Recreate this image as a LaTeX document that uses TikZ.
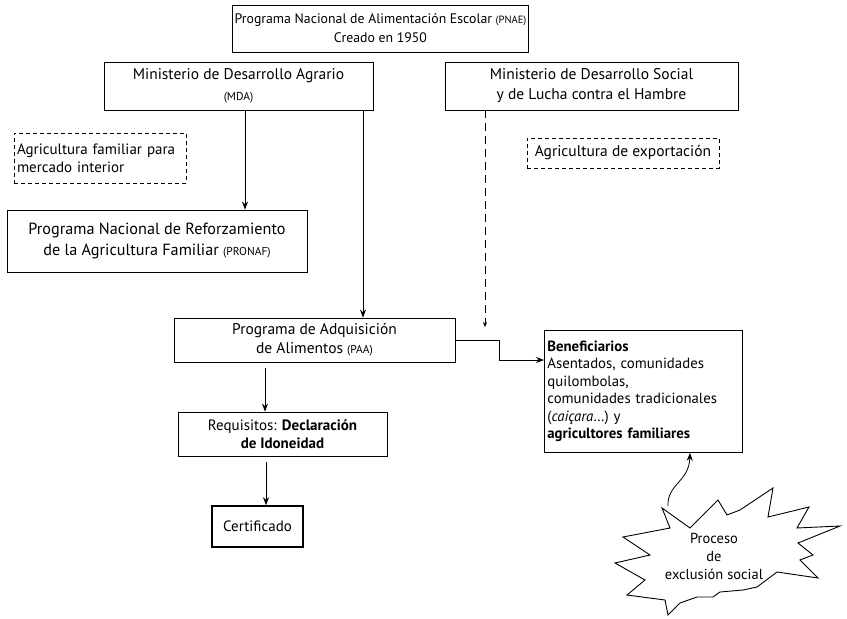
\documentclass[tikz,border=0pt]{standalone}
\usepackage{fontspec}
\setmainfont{PT Sans}
\usetikzlibrary{arrows.meta}
\newcommand{\sml}[1]{{\fontsize{11.5}{10}\selectfont #1}}
\begin{document}
\begin{tikzpicture}[x=1pt,y=-1pt,
  every node/.style={font=\fontsize{15}{17.5}\selectfont, inner sep=2pt},
  box/.style={draw, line width=0.8pt, align=center, minimum width=#1},
  dbox/.style={draw, dashed, line width=0.7pt, dash pattern=on 4pt off 3pt},
  arr/.style={line width=0.8pt, -{Stealth[length=8pt,width=6pt]}},
  darr/.style={line width=0.7pt, dash pattern=on 8pt off 5pt, -{Stealth[length=5pt,width=4pt]}}]
\useasboundingbox (0,0) rectangle (847,619);
% boxes
\node[box=295pt, minimum height=47pt, font=\fontsize{13.8}{19}\selectfont] (pnae) at (380.5,28.5)
  {Programa Nacional de Alimentación Escolar {\fontsize{10.5}{10}\selectfont (PNAE)}\\Creado en 1950};
\node[box=269pt, minimum height=48pt, font=\fontsize{15.5}{21}\selectfont] (mda) at (238.5,86)
  {Ministerio de Desarrollo Agrario\\\sml{(MDA)}};
\node[box=293pt, minimum height=48pt, font=\fontsize{15.5}{20}\selectfont] (mds) at (591.5,86)
  {Ministerio de Desarrollo Social\\y de Lucha contra el Hambre};
\node[dbox, align=left, minimum width=172pt, minimum height=50pt, text width=166pt, font=\fontsize{15}{18}\selectfont] (afam) at (100,158)
  {Agricultura familiar para\\mercado interior};
\node[dbox, minimum width=192pt, minimum height=30pt, font=\fontsize{15.5}{18}\selectfont] (aexp) at (623,153)
  {Agricultura de exportación};
\node[box=300pt, minimum height=62pt, font=\fontsize{16.2}{21}\selectfont] (pronaf) at (157,241)
  {Programa Nacional de Reforzamiento\\de la Agricultura Familiar \sml{(PRONAF)}};
\node[box=281pt, minimum height=44pt, font=\fontsize{15.5}{19}\selectfont] (paa) at (314.5,340)
  {Programa de Adquisición\\de Alimentos \sml{(PAA)}};
\node[draw, line width=0.8pt, align=left, anchor=north west, minimum width=198pt, minimum height=122pt, text width=192pt, inner sep=3pt, font=\fontsize{14.8}{17.4}\selectfont] (benef) at (544,330)
  {\textbf{Beneficiarios}\\Asentados, comunidades\\quilombolas,\\comunidades tradicionales\\(\textit{caiçara}…) y\\\textbf{agricultores familiares}};
\node[box=209pt, minimum height=44pt, font=\fontsize{15}{18}\selectfont] (req) at (282.5,434)
  {Requisitos: \textbf{Declaración}\\\textbf{de Idoneidad}};
\node[draw, line width=1.6pt, minimum width=91pt, minimum height=41pt] (cert) at (257.5,526.5)
  {Certificado};
% star
\draw[line width=0.9pt, fill=white] (662,508) -- (690,528) -- (718,500) -- (727,515) -- (740,510) -- (773,488) -- (768,517) -- (809,507) -- (797,528) -- (840,526) -- (798,543) -- (813,555) -- (800,560) -- (818,578) -- (777,572) -- (757,587) -- (743,590) -- (720,592) -- (713,597) -- (697,597) -- (680,603) -- (668,615) -- (665,600) -- (627,595) -- (645,580) -- (615,563) -- (650,555) -- (623,537) -- (670,528) -- cycle;
\node[align=center, font=\fontsize{14.5}{18}\selectfont] (excl) at (714,556) {Proceso\\de\\exclusión social};
\coordinate (startip) at (668,506);
\coordinate (dsend) at (485,327);
% connectors
\draw[arr] (245,0 |- mda.south) -- (245,0 |- pronaf.north);
\draw[arr] (363,0 |- mda.south) -- (363,0 |- paa.north);
\draw[darr] (485,0 |- mds.south) -- (dsend);
\draw[arr] (paa.east) -- (499,0 |- paa.east) |- (benef.west |- 0,360);
\draw[arr] (265,368) -- (265,0 |- req.north);
\draw[arr] (266,462) -- (266,0 |- cert.north);
\draw[arr] (startip) .. controls (667,484) and (689,482) .. (690,0 |- benef.south);
\end{tikzpicture}
\end{document}
